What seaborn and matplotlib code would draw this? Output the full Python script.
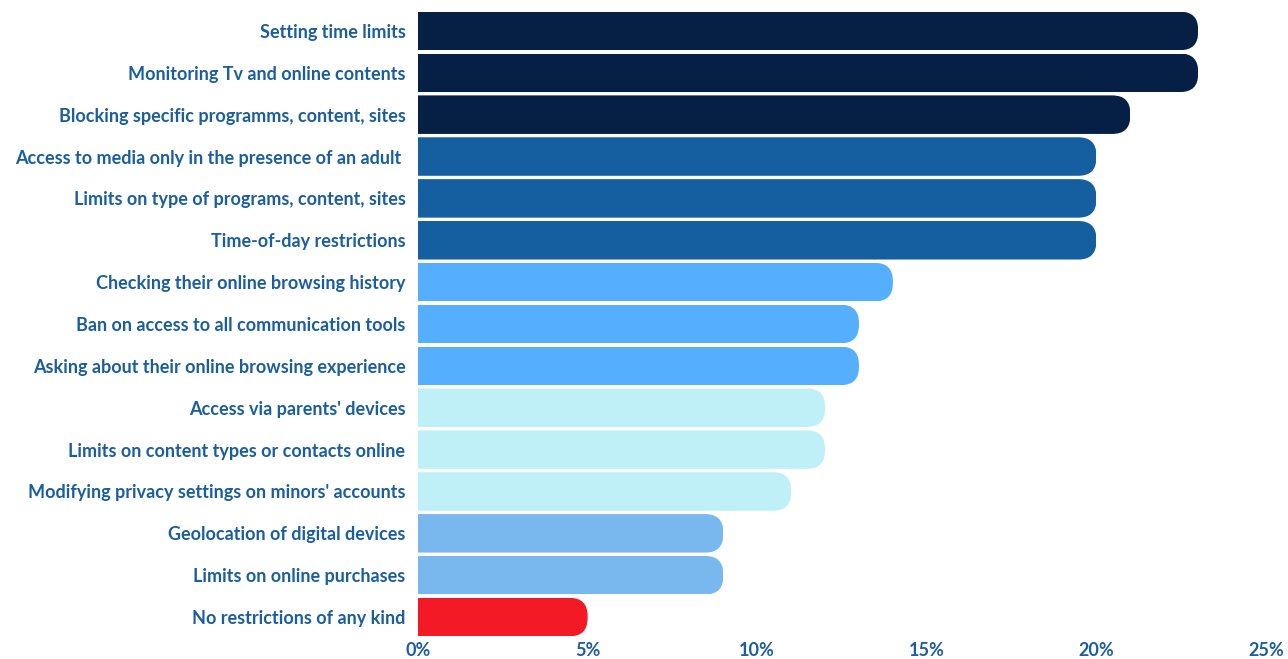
import matplotlib
matplotlib.use("Agg")
import matplotlib.pyplot as plt
from matplotlib.patches import FancyBboxPatch
from matplotlib.ticker import FuncFormatter
import seaborn as sns
import pandas as pd

# Data
measures = [
    "Setting time limits",
    "Monitoring Tv and online contents",
    "Blocking specific programms, content, sites",
    "Access to media only in the presence of an adult ",
    "Limits on type of programs, content, sites",
    "Time-of-day restrictions",
    "Checking their online browsing history",
    "Ban on access to all communication tools",
    "Asking about their online browsing experience",
    "Access via parents' devices",
    "Limits on content types or contacts online",
    "Modifying privacy settings on minors' accounts",
    "Geolocation of digital devices",
    "Limits on online purchases",
    "No restrictions of any kind",
]
share = [23, 23, 21, 20, 20, 20, 14, 13, 13, 12, 12, 11, 9, 9, 5]

bar_colors = ["#061f44"] * 3 + ["#155fa0"] * 3 + ["#55aefe"] * 3 + \
             ["#bff0f7"] * 3 + ["#78b8ef"] * 2 + ["#f31a25"]
text_color = "#1b5e9e"

df = pd.DataFrame({"measure": measures, "share": share})

sns.set_style("white")
plt.rcParams["font.family"] = ["Lato", "DejaVu Sans"]

fig = plt.figure(figsize=(12.88, 6.59), dpi=100)
ax = fig.add_axes([418 / 1288, 21 / 659, 848 / 1288, 628 / 659])

sns.barplot(data=df, y="measure", x="share", hue="measure", order=measures,
            hue_order=measures, palette=bar_colors, legend=False,
            orient="h", width=0.92, saturation=1, ax=ax)

ax.set_xlim(0, 25)
ax.set_ylim(len(measures) - 0.5, -0.5)
ax.set_xticks([0, 5, 10, 15, 20, 25])
ax.xaxis.set_major_formatter(FuncFormatter(lambda v, _: f"{v:.0f}%"))
ax.set_xlabel("")
ax.set_ylabel("")
for s in ax.spines.values():
    s.set_visible(False)
ax.tick_params(axis="both", length=0)
ax.tick_params(axis="y", pad=9)
ax.tick_params(axis="x", pad=3)
for lab in ax.get_yticklabels():
    lab.set_fontsize(13)
    lab.set_fontweight("bold")
    lab.set_color(text_color)
for lab in ax.get_xticklabels():
    lab.set_fontsize(13)
    lab.set_fontweight("bold")
    lab.set_color(text_color)

# rounded right ends: clip each bar with a rounded box, circular in pixels
fig.canvas.draw()
bbox = ax.get_window_extent()
x_per_px = 25 / bbox.width
y_per_px = len(measures) / bbox.height
aspect = y_per_px / x_per_px
r = 18 * x_per_px
for bar in ax.patches:
    x0, y0 = bar.get_x(), bar.get_y()
    w, h = bar.get_width(), bar.get_height()
    clip = FancyBboxPatch((x0 - r * 2, y0), w + r * 2, h,
                          boxstyle=f"round,pad=0,rounding_size={r}",
                          mutation_aspect=aspect, transform=ax.transData)
    bar.set_clip_path(clip)
    bar.set_edgecolor("none")

fig.savefig("out.png", dpi=100)
